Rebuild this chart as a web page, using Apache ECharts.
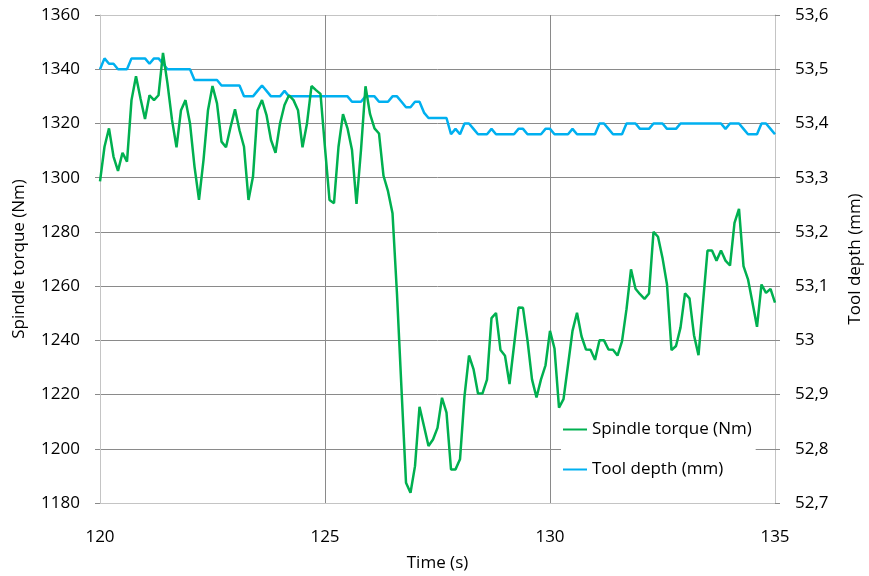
<!DOCTYPE html>
<html>
<head>
<meta charset="utf-8">
<script src="https://cdn.jsdelivr.net/npm/echarts@6/dist/echarts.min.js"></script>
<style>html,body{margin:0;padding:0;background:#fff;}#c{width:869px;height:576px;}</style>
</head>
<body>
<div id="c"></div>
<script>
// Sampling: one value every 0.1 s from 120 s to 135 s
var startTime = 120;
var sampleStep = 0.1;

// Spindle torque (Nm)
var torque = [
  1298.6, 1311.4, 1318.2, 1307.8, 1302.5, 1309.2, 1305.9, 1328.6, 1337.4, 1329.2,
  1321.6, 1330.4, 1328.6, 1330.4, 1346.0, 1334.7, 1321.3, 1311.2, 1324.9, 1328.6,
  1320.0, 1304.1, 1291.8, 1306.5, 1324.9, 1333.8, 1327.4, 1313.3, 1311.2, 1318.6,
  1325.2, 1317.5, 1311.4, 1291.8, 1300.4, 1324.9, 1328.6, 1323.1, 1313.9, 1309.2,
  1320.0, 1326.8, 1330.4, 1328.6, 1324.9, 1311.2, 1320.0, 1333.8, 1332.3, 1330.9,
  1311.0, 1291.8, 1290.6, 1311.4, 1323.4, 1318.2, 1310.2, 1290.3, 1310.2, 1333.7,
  1323.5, 1318.2, 1316.3, 1300.7, 1295.0, 1286.9, 1257.0, 1222.0, 1187.5, 1183.8,
  1193.6, 1215.5, 1208.3, 1201.0, 1203.4, 1207.7, 1218.8, 1213.3, 1192.4, 1192.4,
  1196.1, 1219.4, 1234.4, 1229.4, 1220.4, 1220.4, 1225.5, 1248.2, 1250.1, 1236.4,
  1234.3, 1223.9, 1238.0, 1252.1, 1252.0, 1240.0, 1225.6, 1218.9, 1225.6, 1230.8,
  1243.5, 1237.0, 1215.2, 1218.3, 1230.8, 1243.5, 1250.2, 1241.5, 1236.6, 1236.5,
  1232.8, 1240.0, 1240.0, 1236.6, 1236.5, 1234.4, 1239.6, 1251.5, 1266.2, 1259.0,
  1257.0, 1255.3, 1257.3, 1280.0, 1278.2, 1270.4, 1260.6, 1236.4, 1237.9, 1244.7,
  1257.3, 1255.5, 1241.9, 1234.5, 1253.9, 1273.1, 1273.1, 1269.4, 1273.1, 1269.4,
  1267.6, 1283.3, 1288.5, 1267.4, 1262.5, 1253.9, 1245.0, 1260.6, 1257.5, 1259.0,
  1253.9
];

// Tool depth (mm)
var depth = [
  53.50, 53.52, 53.51, 53.51, 53.50, 53.50, 53.50, 53.52, 53.52, 53.52,
  53.52, 53.51, 53.52, 53.52, 53.51, 53.50, 53.50, 53.50, 53.50, 53.50,
  53.50, 53.48, 53.48, 53.48, 53.48, 53.48, 53.48, 53.47, 53.47, 53.47,
  53.47, 53.47, 53.45, 53.45, 53.45, 53.46, 53.47, 53.46, 53.45, 53.45,
  53.45, 53.46, 53.45, 53.45, 53.45, 53.45, 53.45, 53.45, 53.45, 53.45,
  53.45, 53.45, 53.45, 53.45, 53.45, 53.45, 53.44, 53.44, 53.44, 53.45,
  53.45, 53.45, 53.44, 53.44, 53.44, 53.45, 53.45, 53.44, 53.43, 53.43,
  53.44, 53.44, 53.42, 53.41, 53.41, 53.41, 53.41, 53.41, 53.38, 53.39,
  53.38, 53.40, 53.40, 53.39, 53.38, 53.38, 53.38, 53.39, 53.38, 53.38,
  53.38, 53.38, 53.38, 53.39, 53.39, 53.38, 53.38, 53.38, 53.38, 53.39,
  53.39, 53.38, 53.38, 53.38, 53.38, 53.39, 53.38, 53.38, 53.38, 53.38,
  53.38, 53.40, 53.40, 53.39, 53.38, 53.38, 53.38, 53.40, 53.40, 53.40,
  53.39, 53.39, 53.39, 53.40, 53.40, 53.40, 53.39, 53.39, 53.39, 53.40,
  53.40, 53.40, 53.40, 53.40, 53.40, 53.40, 53.40, 53.40, 53.40, 53.39,
  53.40, 53.40, 53.40, 53.39, 53.38, 53.38, 53.38, 53.40, 53.40, 53.39,
  53.38
];

var xTicks = [120, 125, 130, 135];
var torqueTicks = [1180, 1200, 1220, 1240, 1260, 1280, 1300, 1320, 1340, 1360];
var depthTicks = ['52,7', '52,8', '52,9', '53', '53,1', '53,2', '53,3', '53,4', '53,5', '53,6'];

var seriesNames = ['Spindle torque (Nm)', 'Tool depth (mm)'];
var axisNames = ['Time (s)', 'Spindle torque (Nm)', 'Tool depth (mm)'];

function pairs(arr) {
  var out = [];
  for (var i = 0; i < arr.length; i++) {
    out.push([+(startTime + i * sampleStep).toFixed(1), arr[i]]);
  }
  return out;
}

var FONT = 'Open Sans';
var gridDark = '#8a8a8a';
var gridLight = '#c4c4c4';

var chart = echarts.init(document.getElementById('c'), null, {renderer: 'canvas'});
chart.setOption({
  backgroundColor: '#ffffff',
  animation: false,
  textStyle: {fontFamily: FONT},
  grid: {left: 100, right: 94, top: 15, bottom: 73, containLabel: false, outerBoundsMode: 'none'},
  legend: {
    orient: 'vertical',
    left: 561,
    top: 419,
    itemWidth: 24,
    itemHeight: 12,
    itemGap: 23,
    icon: 'path://M0,5 L24,5 L24,7 L0,7 Z',
    backgroundColor: '#ffffff',
    padding: [2, 4, 2, 2],
    textStyle: {fontFamily: FONT, fontSize: 17, color: '#000'},
    data: seriesNames
  },
  xAxis: {
    type: 'value',
    min: xTicks[0],
    max: xTicks[xTicks.length - 1],
    interval: 5,
    name: axisNames[0],
    nameLocation: 'middle',
    nameGap: 52,
    nameTextStyle: {fontFamily: FONT, fontSize: 17, color: '#000'},
    axisLine: {show: true, lineStyle: {color: gridLight, width: 1}},
    axisTick: {show: false},
    axisLabel: {fontFamily: FONT, fontSize: 17, color: '#000', margin: 26},
    splitLine: {show: true, lineStyle: {color: [gridLight, gridDark, gridDark, gridLight], width: 1}}
  },
  yAxis: [
    {
      type: 'value',
      min: torqueTicks[0],
      max: torqueTicks[torqueTicks.length - 1],
      interval: 20,
      name: axisNames[1],
      nameLocation: 'middle',
      nameGap: 72,
      nameRotate: 90,
      nameTextStyle: {fontFamily: FONT, fontSize: 17, color: '#000'},
      axisLine: {show: true, lineStyle: {color: gridLight, width: 1}},
      axisTick: {show: true, inside: false, length: 5, lineStyle: {color: gridDark}},
      axisLabel: {fontFamily: FONT, fontSize: 17, color: '#000', margin: 20, formatter: function (v) { return String(v); }},
      splitLine: {show: true, lineStyle: {color: [gridLight, gridDark, gridDark, gridDark, gridDark, gridDark, gridDark, gridDark, gridDark, gridLight], width: 1}}
    },
    {
      type: 'value',
      min: 52.7,
      max: 53.6,
      interval: 0.1,
      position: 'right',
      name: axisNames[2],
      nameLocation: 'middle',
      nameGap: 72,
      nameRotate: 90,
      nameTextStyle: {fontFamily: FONT, fontSize: 17, color: '#000'},
      axisLine: {show: true, lineStyle: {color: gridLight, width: 1}},
      axisTick: {show: true, inside: false, length: 5, lineStyle: {color: gridDark}},
      axisLabel: {
        fontFamily: FONT, fontSize: 17, color: '#000', margin: 20,
        formatter: function (v) {
          var idx = Math.round((v - 52.7) / 0.1);
          return depthTicks[idx] !== undefined ? depthTicks[idx] : '';
        }
      },
      splitLine: {show: false}
    }
  ],
  series: [
    {
      name: seriesNames[0],
      type: 'line',
      yAxisIndex: 0,
      data: pairs(torque),
      showSymbol: false,
      symbol: 'none',
      lineStyle: {color: '#00B050', width: 2.5},
      itemStyle: {color: '#00B050'},
      z: 3
    },
    {
      name: seriesNames[1],
      type: 'line',
      yAxisIndex: 1,
      data: pairs(depth),
      showSymbol: false,
      symbol: 'none',
      lineStyle: {color: '#00B0F0', width: 2.5},
      itemStyle: {color: '#00B0F0'},
      z: 2
    }
  ]
});
</script>
</body>
</html>
